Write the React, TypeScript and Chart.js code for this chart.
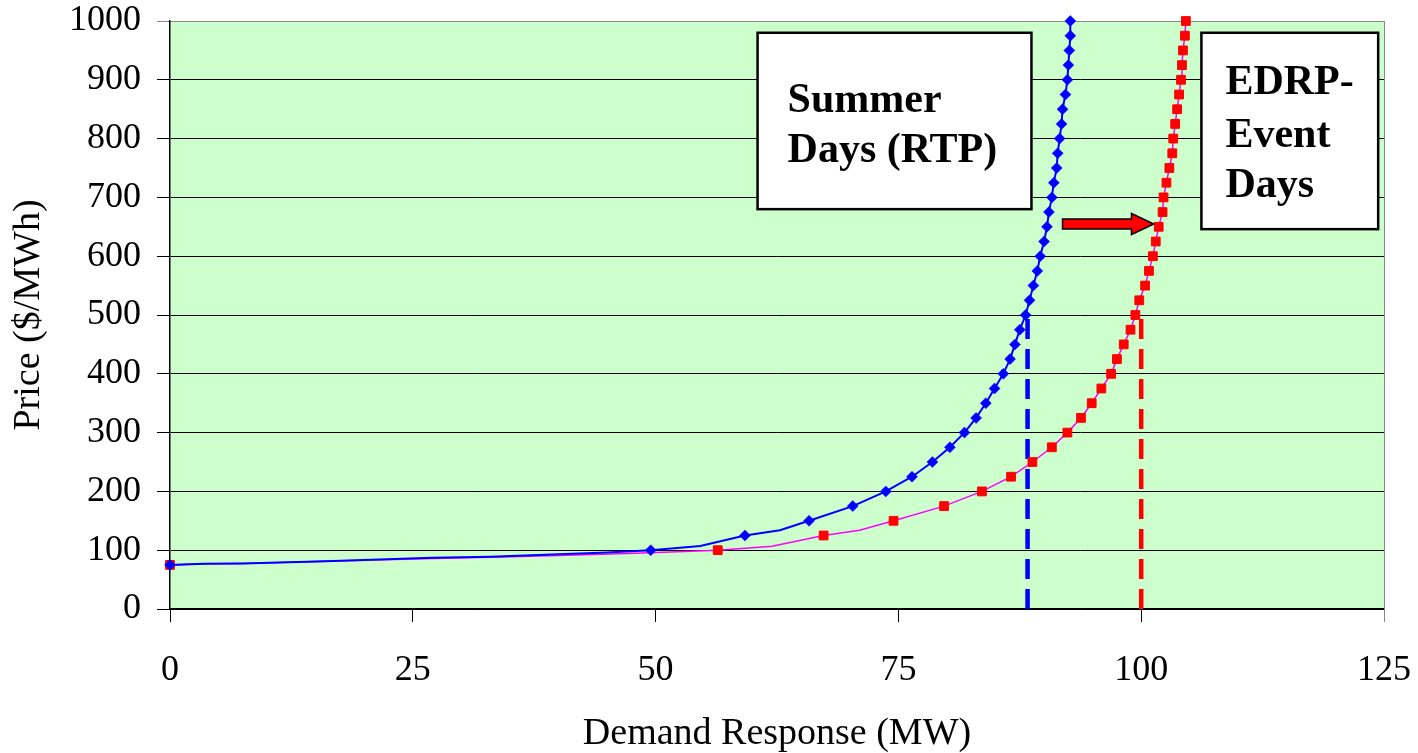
import React, { useEffect, useRef } from "react";
import { Chart, registerables } from "chart.js";

Chart.register(...registerables);

// ---- Data ----
const summerMW = [
  0, 3.5, 7.5, 16, 27, 33, 40, 45, 49.5, 54.6, 59.2, 62.8, 65.8, 70.3, 73.7, 76.4,
  78.5, 80.3, 81.8, 83.0, 84.0, 84.9, 85.8, 86.5, 87.0, 87.5, 88.1, 88.5, 88.9, 89.3,
  89.6, 90.0, 90.3, 90.5, 90.8, 91.0, 91.3, 91.4, 91.6, 91.8, 91.9, 92.2, 92.4, 92.5,
  92.6, 92.7, 92.7,
];
const summerPrice = [
  75, 77, 77.5, 81, 87, 89, 93, 96, 100, 107, 125, 134, 150, 175, 200, 225,
  250, 275, 300, 325, 350, 375, 400, 425, 450, 475, 500, 525, 550, 575,
  600, 625, 650, 675, 700, 725, 750, 775, 800, 825, 850, 875, 900, 925,
  950, 975, 1000,
];
const edrpMW = [
  0, 3.5, 7.5, 16, 27, 33, 40, 48, 56.4, 62.0, 67.3, 71.0, 74.5, 79.7, 83.6, 86.6,
  88.8, 90.8, 92.4, 93.8, 94.9, 95.9, 96.9, 97.5, 98.2, 98.9, 99.4, 99.8, 100.4, 100.8,
  101.2, 101.5, 101.8, 102.2, 102.3, 102.6, 102.9, 103.2, 103.3, 103.5, 103.7, 103.9, 104.1, 104.2,
  104.3, 104.5, 104.6,
];
const edrpPrice = [
  75, 77, 77.5, 81, 86, 88, 91, 95, 100, 106.6, 125, 134, 150, 175, 200, 225,
  250, 275, 300, 325, 350, 375, 400, 425, 450, 475, 500, 525, 550, 575,
  600, 625, 650, 675, 700, 725, 750, 775, 800, 825, 850, 875, 900, 925,
  950, 975, 1000,
];
const summerDropMW = [88.3, 88.3];
const summerDropPrice = [0, 503];
const edrpDropMW = [100, 100];
const edrpDropPrice = [0, 500];

const xTickStep = 25;
const yTickStep = 100;
const summerLabel = ["Summer", "Days (RTP)"];
const edrpLabel = ["EDRP-", "Event", "Days"];
const xTitle = "Demand Response (MW)";
const yTitle = "Price ($/MWh)";

const SERIF = "'Liberation Serif', 'Times New Roman', Times, serif";

const toPoints = (xs: number[], ys: number[]) => xs.map((x, i) => ({ x, y: ys[i] }));
const markerRadius = (ys: number[], r: number) => ys.map((p) => (p % 25 === 0 ? r : 0));

const annotationPlugin = {
  id: "annotations",
  beforeDraw(chart: any) {
    const { ctx, chartArea: a } = chart;
    ctx.save();
    ctx.fillStyle = "#CCFFCC";
    ctx.fillRect(a.left, a.top, a.right - a.left, a.bottom - a.top);
    ctx.restore();
  },
  afterDatasetsDraw(chart: any) {
    const { ctx, chartArea: a, scales } = chart;
    const xs = scales.x;
    const ys = scales.y;
    ctx.save();
    // right border of plot
    ctx.strokeStyle = "#888888";
    ctx.lineWidth = 1;
    ctx.beginPath();
    ctx.moveTo(Math.round(a.right) + 0.5, a.top);
    ctx.lineTo(Math.round(a.right) + 0.5, a.bottom);
    ctx.stroke();

    const drawBox = (x0: number, y0: number, x1: number, y1: number, lines: string[], tx: number, baselines: number[]) => {
      const L = xs.getPixelForValue(x0);
      const R = xs.getPixelForValue(x1);
      const T = ys.getPixelForValue(y0);
      const B = ys.getPixelForValue(y1);
      ctx.fillStyle = "#FFFFFF";
      ctx.fillRect(L, T, R - L, B - T);
      ctx.strokeStyle = "#000000";
      ctx.lineWidth = 2.5;
      ctx.strokeRect(L, T, R - L, B - T);
      ctx.fillStyle = "#000000";
      ctx.font = `bold 42px ${SERIF}`;
      ctx.textAlign = "left";
      ctx.textBaseline = "alphabetic";
      lines.forEach((t, i) => ctx.fillText(t, L + tx, T + baselines[i]));
    };
    drawBox(60.5, 980, 88.7, 680, summerLabel, 30, [79, 129]);
    drawBox(106.2, 980, 124.4, 646, edrpLabel, 24, [61, 114, 164]);

    // arrow
    const tail = xs.getPixelForValue(91.9);
    const base = xs.getPixelForValue(99.0);
    const tip = xs.getPixelForValue(101.3);
    const cy = ys.getPixelForValue(654.8);
    const bh = 5;
    const hh = 10.5;
    ctx.beginPath();
    ctx.moveTo(tail, cy - bh);
    ctx.lineTo(base, cy - bh);
    ctx.lineTo(base, cy - hh);
    ctx.lineTo(tip, cy);
    ctx.lineTo(base, cy + hh);
    ctx.lineTo(base, cy + bh);
    ctx.lineTo(tail, cy + bh);
    ctx.closePath();
    ctx.fillStyle = "#FF0000";
    ctx.fill();
    ctx.strokeStyle = "#000000";
    ctx.lineWidth = 1.5;
    ctx.stroke();
    ctx.restore();
  },
};

const zeroPadding = (s: any) => {
  s.paddingTop = 0;
  s.paddingBottom = 0;
  s.paddingLeft = 0;
  s.paddingRight = 0;
};

export default function App() {
  const ref = useRef<HTMLCanvasElement | null>(null);
  useEffect(() => {
    document.body.style.margin = "0";
    const canvas = ref.current;
    if (!canvas) return;
    const chart = new Chart(canvas, {
      type: "line",
      data: {
        datasets: [
          {
            label: "Summer Days (RTP)",
            data: toPoints(summerMW, summerPrice),
            borderColor: "#0000FF",
            borderWidth: 2,
            pointStyle: "rectRot",
            pointRadius: markerRadius(summerPrice, 5.5),
            pointBackgroundColor: "#0000FF",
            pointBorderColor: "#0000FF",
            pointBorderWidth: 0.5,
            tension: 0,
            clip: false,
          } as any,
          {
            label: "EDRP-Event Days",
            data: toPoints(edrpMW, edrpPrice),
            borderColor: "#FF00FF",
            borderWidth: 1.5,
            pointStyle: "rect",
            pointRadius: markerRadius(edrpPrice, 6.2),
            pointBackgroundColor: "#FF0000",
            pointBorderColor: "#FF0000",
            pointBorderWidth: 1,
            tension: 0,
            clip: false,
          } as any,
          {
            label: "Summer drop",
            data: toPoints(summerDropMW, summerDropPrice),
            borderColor: "#0000FF",
            borderWidth: 4.5,
            borderDash: [20, 10],
            pointRadius: 0,
          } as any,
          {
            label: "EDRP drop",
            data: toPoints(edrpDropMW, edrpDropPrice),
            borderColor: "#FF0000",
            borderWidth: 4.5,
            borderDash: [20, 10],
            pointRadius: 0,
          } as any,
        ],
      },
      options: {
        responsive: false,
        animation: false,
        events: [],
        layout: { padding: { top: 21, right: 34, left: 0, bottom: 0 } },
        plugins: { legend: { display: false }, tooltip: { enabled: false } },
        scales: {
          x: {
            type: "linear",
            min: 0,
            max: 125,
            ticks: {
              stepSize: xTickStep,
              color: "#000",
              font: { family: SERIF, size: 36, lineHeight: 1 },
              padding: 31,
              maxRotation: 0,
              autoSkip: false,
              callback: (v: any) => String(v),
            },
            grid: {
              drawOnChartArea: false,
              drawTicks: true,
              tickLength: 13,
              color: (c: any) => (c.tick && c.tick.value === 125 ? "#888888" : "#000000"),
              lineWidth: 1,
            },
            border: { color: "#000", width: 1.5 },
            title: {
              display: true,
              text: xTitle,
              color: "#000",
              font: { family: SERIF, size: 38, lineHeight: 1 },
              padding: { top: 0, bottom: 0 },
            },
            afterFit: (s: any) => {
              s.height = 144;
              zeroPadding(s);
            },
          },
          y: {
            type: "linear",
            min: 0,
            max: 1000,
            ticks: {
              stepSize: yTickStep,
              color: "#000",
              font: { family: SERIF, size: 36, lineHeight: 1 },
              padding: 16,
              callback: (v: any) => String(v),
            },
            grid: {
              color: (c: any) => (c.tick && c.tick.value === 1000 ? "#888888" : "#000000"),
              tickLength: 13,
              lineWidth: 1,
            },
            border: { color: "#000", width: 1.5 },
            title: {
              display: true,
              text: yTitle,
              color: "#000",
              font: { family: SERIF, size: 38, lineHeight: 1 },
              padding: { top: 10, bottom: 0 },
            },
            afterFit: (s: any) => {
              s.width = 170;
              zeroPadding(s);
            },
          },
        },
      } as any,
      plugins: [annotationPlugin],
    });
    return () => chart.destroy();
  }, []);
  return (
    <div style={{ width: 1418, height: 753 }}>
      <canvas ref={ref} width={1418} height={753} style={{ display: "block" }} />
    </div>
  );
}
